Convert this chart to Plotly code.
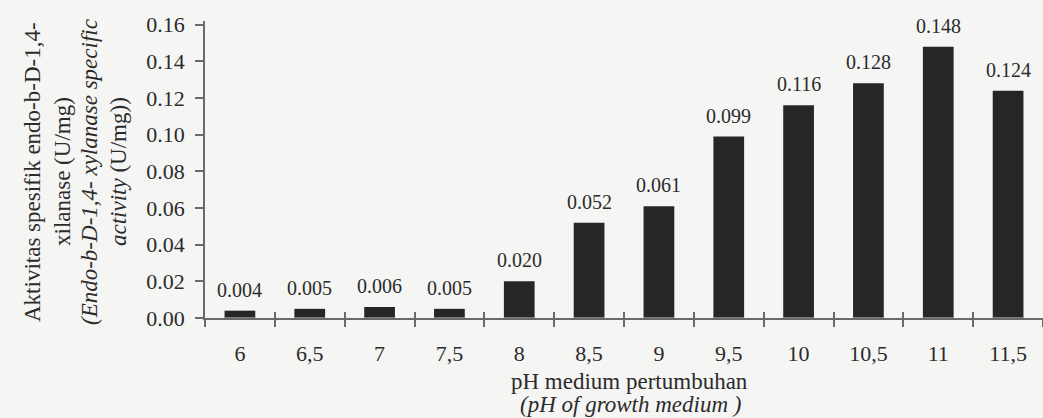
import plotly.graph_objects as go

categories = ["6", "6,5", "7", "7,5", "8", "8,5", "9", "9,5", "10", "10,5", "11", "11,5"]
values = [0.004, 0.005, 0.006, 0.005, 0.020, 0.052, 0.061, 0.099, 0.116, 0.128, 0.148, 0.124]
y_ticks = [0.00, 0.02, 0.04, 0.06, 0.08, 0.10, 0.12, 0.14, 0.16]

W, H = 1043, 418
L, R, T, B = 205, 0, 21, 100
pw = W - L - R
ph = H - T - B
FONT = "Liberation Serif"
TXT = "#2b2b2b"
BG = "#f5f5f3"
AX = "#6a6a6a"

fig = go.Figure()
fig.add_trace(go.Bar(
    x=categories, y=values,
    marker=dict(color="#262626", line=dict(width=0)),
    width=0.44, hoverinfo="skip",
))
# helper trace for crossing ticks on the x axis
fig.add_trace(go.Bar(x=categories, y=[0] * len(categories), xaxis="x2", yaxis="y",
                     marker=dict(color="rgba(0,0,0,0)"), hoverinfo="skip", showlegend=False))

# value labels above bars (x given as category index)
for i, v in enumerate(values):
    fig.add_annotation(x=i, y=v, xref="x", yref="y", text=f"{v:.3f}",
                       showarrow=False, xanchor="center", yanchor="bottom", yshift=8,
                       font=dict(family=FONT, size=20, color=TXT))

fig.update_layout(
    width=W, height=H,
    margin=dict(l=L, r=R, t=T, b=B),
    paper_bgcolor=BG, plot_bgcolor="rgba(0,0,0,0)",
    showlegend=False,
    font=dict(family=FONT, color=TXT),
    xaxis=dict(
        type="category", range=[-0.5, 11.5],
        showline=True, linecolor=AX, linewidth=1.5,
        ticks="outside", tickson="boundaries", ticklen=7, tickcolor=AX, tickwidth=1.5,
        tickfont=dict(family=FONT, size=22, color=TXT),
        ticklabelstandoff=15,
        showgrid=False, zeroline=False,
    ),
    xaxis2=dict(
        type="category", range=[-0.5, 11.5], overlaying="x", side="bottom",
        showline=False, ticks="inside", tickson="boundaries", ticklen=6,
        tickcolor=AX, tickwidth=1.5, showticklabels=False, showgrid=False,
    ),
    yaxis=dict(
        range=[0, 0.162], tickvals=y_ticks, tickformat=".2f",
        showline=True, linecolor=AX, linewidth=1.5,
        ticks="outside", ticklen=8, tickcolor=AX, tickwidth=1.5,
        tickfont=dict(family=FONT, size=22, color=TXT),
        ticklabelstandoff=6,
        showgrid=False, zeroline=False,
    ),
    bargap=0.56,
)


def px_x(p):
    return (p - L) / pw


def px_y(p):
    return (H - B - p) / ph


ytitle = [
    (32, "Aktivitas spesifik endo-b-D-1,4-"),
    (62, "xilanase (U/mg)"),
    (89, "<i>(Endo-b-D-1,4- xylanase specific</i>"),
    (118, "<i>activity</i> (U/mg))"),
]
for xp, t in ytitle:
    fig.add_annotation(x=px_x(xp), y=px_y(172), xref="paper", yref="paper",
                       text=t, textangle=-90, showarrow=False,
                       xanchor="center", yanchor="middle",
                       font=dict(family=FONT, size=23, color=TXT))

fig.add_annotation(x=px_x(629), y=px_y(381), xref="paper", yref="paper",
                   text="pH medium pertumbuhan", showarrow=False,
                   xanchor="center", yanchor="middle",
                   font=dict(family=FONT, size=23, color=TXT))
fig.add_annotation(x=px_x(630), y=px_y(405), xref="paper", yref="paper",
                   text="<i>(pH of growth medium )</i>", showarrow=False,
                   xanchor="center", yanchor="middle",
                   font=dict(family=FONT, size=23, color=TXT))

fig.write_html(
    "out.html",
    config={"displayModeBar": False},
    post_script="document.body.style.margin='0';document.body.style.background='%s';" % BG,
)
